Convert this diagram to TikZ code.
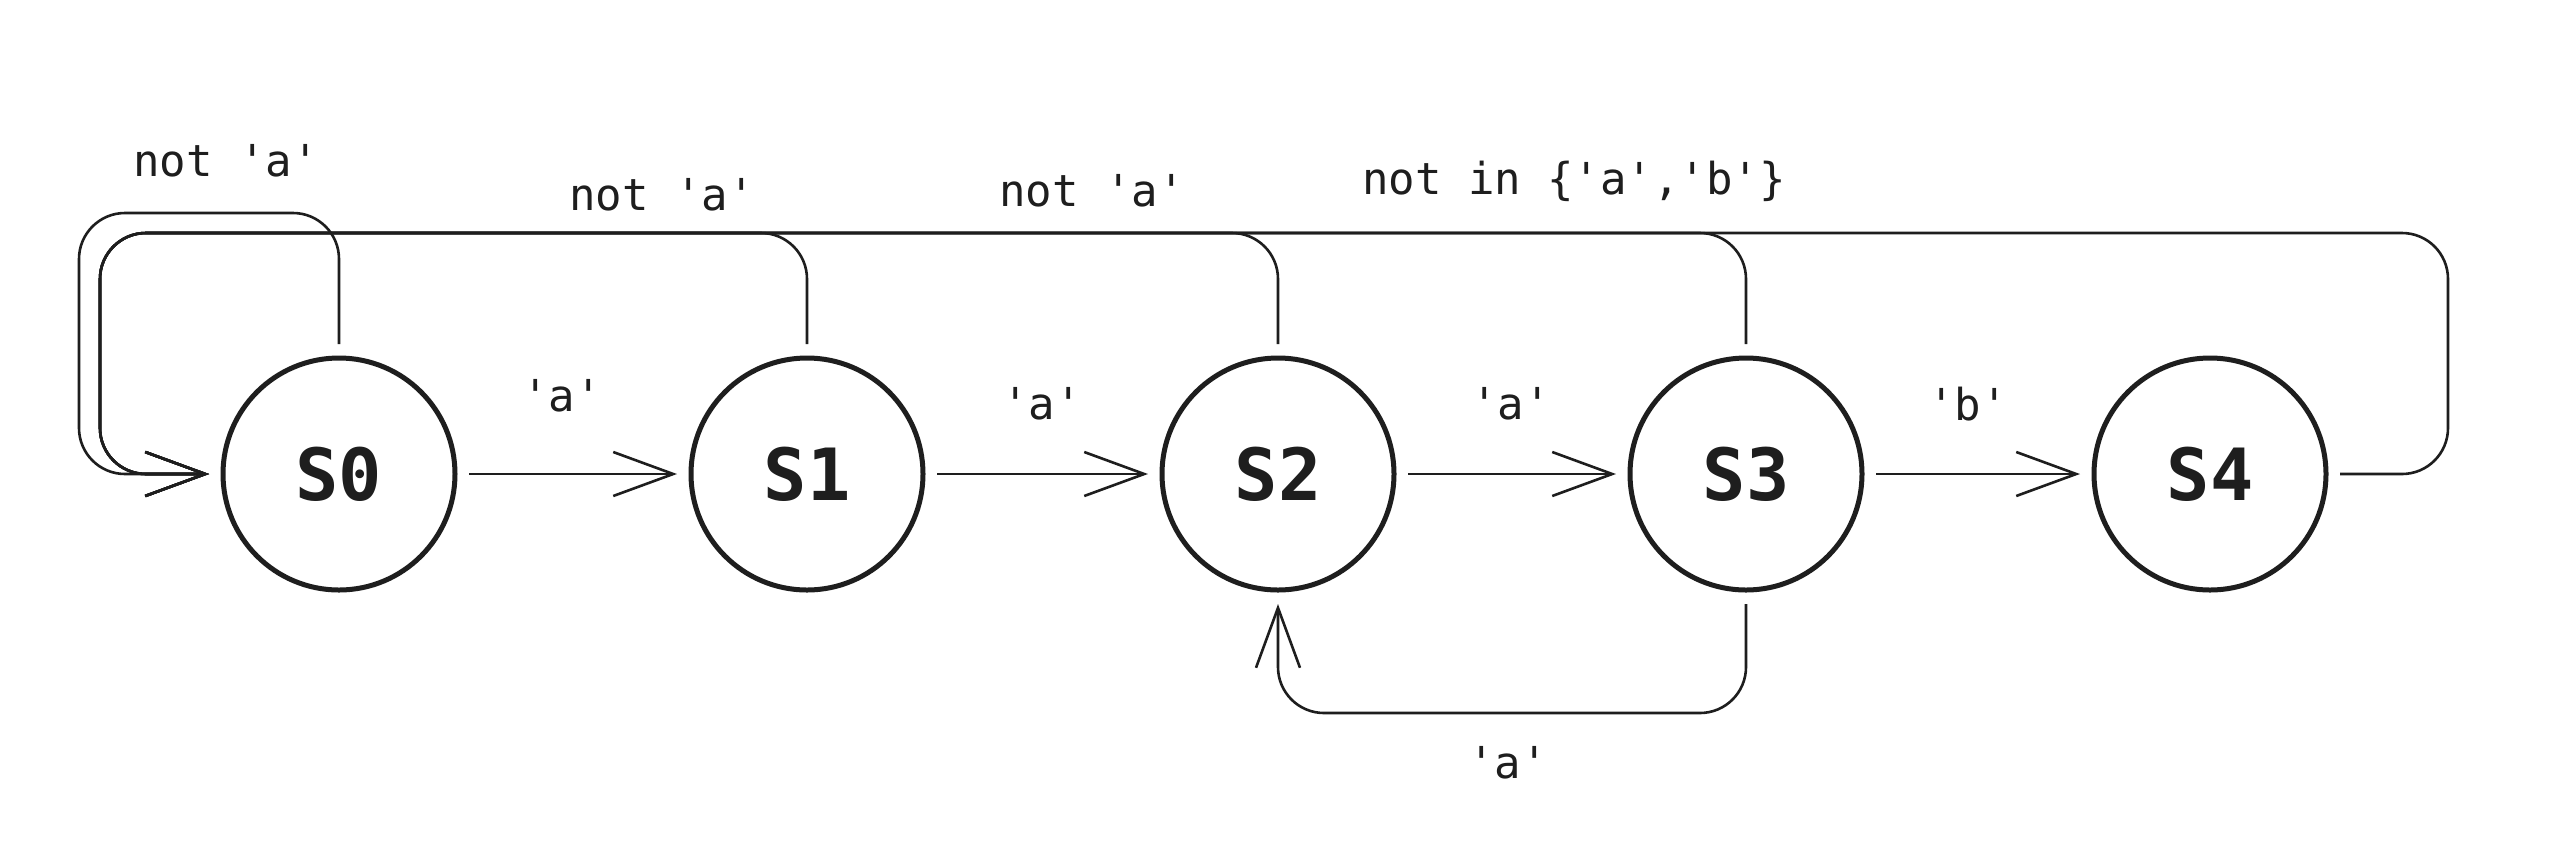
\documentclass[tikz,border=0pt]{standalone}
\usepackage{fontspec}
\setmonofont{DejaVu Sans Mono}
\usetikzlibrary{arrows.meta}
\definecolor{ink}{HTML}{1E1E1E}
\begin{document}
\begin{tikzpicture}[x=0.5pt,y=-0.5pt,
  state/.style={circle, draw=ink, line width=2.5pt, minimum size=116pt, inner sep=0pt, outer sep=7pt,
    font=\ttfamily\bfseries\fontsize{36}{40}\selectfont, text=ink},
  edge/.style={draw=ink, line width=1.3pt, -{Straight Barb[length=30pt,width=22pt]}},
  loopedge/.style={edge, rounded corners=23pt},
  lab/.style={font=\ttfamily\fontsize{22}{26}\selectfont, text=ink, inner sep=0pt}]
\useasboundingbox[fill=white] (0,0) rectangle (2556,858);

\node[state] (s0) at (339,474) {S0};
\node[state] (s1) at (807,474) {S1};
\node[state] (s2) at (1278,474) {S2};
\node[state] (s3) at (1746,474) {S3};
\node[state] (s4) at (2210,474) {S4};

\coordinate (cl) at (79,213);
\coordinate (ctop) at (100,233);
\coordinate (cr) at (2448,233);
\coordinate (cb) at (1278,713);

% forward edges
\draw[edge] (s0) -- (s1);
\draw[edge] (s1) -- (s2);
\draw[edge] (s2) -- (s3);
\draw[edge] (s3) -- (s4);

% back edges to S0
\draw[loopedge] (s0.north) |- (cl) |- (s0.west);
\draw[loopedge] (s1.north) |- (ctop) |- (s0.west);
\draw[loopedge] (s2.north) |- (ctop) |- (s0.west);
\draw[loopedge] (s3.north) |- (ctop) |- (s0.west);
\draw[loopedge] (s4.east) -| (cr) -- (ctop) |- (s0.west);

% S3 back to S2
\draw[loopedge] (s3.south) |- (cb) -- (s2.south);

% labels
\node[lab] (l0) at (226,161) {not 'a'};
\node[lab] (l1) at (662,195) {not 'a'};
\node[lab] (l2) at (1092,191) {not 'a'};
\node[lab] (l3) at (1574,181) {not in \{'a','b'\}};
\node[lab] (a1) at (562,396) {'a'};
\node[lab] (a2) at (1042,404) {'a'};
\node[lab] (a3) at (1511,404) {'a'};
\node[lab] (b4) at (1968,404) {'b'};
\node[lab] (a5) at (1508,763) {'a'};
\end{tikzpicture}
\end{document}
